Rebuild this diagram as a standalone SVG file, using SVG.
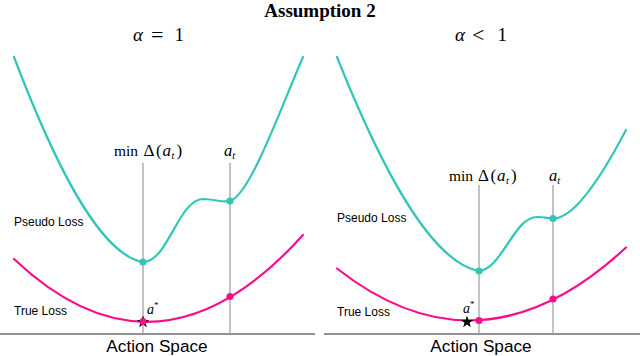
<svg xmlns="http://www.w3.org/2000/svg" xmlns:xlink="http://www.w3.org/1999/xlink" width="640" height="356" viewBox="0 0 640 356">
<style>
.serif{font-family:"Liberation Serif","Times New Roman",serif;fill:#000}
.it{font-style:italic}
.sans{font-family:"Liberation Sans",Arial,sans-serif;fill:#000}
.pseudo{fill:none;stroke:#31c6b8;stroke-width:2.2;stroke-linecap:round}
.true{fill:none;stroke:#f90e8a;stroke-width:2.2;stroke-linecap:round}
.vline{stroke:#9a9a9a;stroke-width:1.2}
.axis{stroke:#222;stroke-width:1.1}
.tdot{fill:#31c6b8}
.pdot{fill:#f90e8a}
</style>
<defs>
<path id="star" d="M0,-6.5 L1.53,-2.1 6.18,-2.01 2.47,0.8 3.82,5.26 0,2.6 -3.82,5.26 -2.47,0.8 -6.18,-2.01 -1.53,-2.1 Z" fill="#000"/>
</defs>

<text class="serif" x="320" y="16.5" font-size="19" font-weight="bold" text-anchor="middle">Assumption 2</text>

<!-- Left panel -->
<g id="panel-left">
  <text class="serif" y="41" font-size="19"><tspan class="it" x="133">α</tspan><tspan x="151" font-size="22" dy="0.5">=</tspan><tspan x="174.5" dy="-0.5">1</tspan></text>
  <g id="left-axis"><line class="axis" x1="0" y1="334" x2="315" y2="334"/>
  <text class="sans" x="157" y="352" font-size="17.2" text-anchor="middle">Action Space</text></g>
  <g id="left-guides">
    <line class="vline" x1="143" y1="163" x2="143" y2="334"/>
    <line class="vline" x1="230" y1="163" x2="230" y2="334"/>
    <text class="serif" y="156" font-size="17"><tspan x="114" font-size="15.5">min</tspan><tspan x="143.5">Δ</tspan><tspan dx="1.5">(</tspan><tspan class="it" dx="1">a</tspan><tspan class="it" font-size="10.5" dy="2.5" dx="0.5">t</tspan><tspan dy="-2.5" dx="2">)</tspan></text>
    <text class="serif" x="224" y="156" font-size="16.5"><tspan class="it">a</tspan><tspan class="it" font-size="10.5" dy="2.5">t</tspan></text>
  </g>
  <g id="left-pseudo">
    <path class="pseudo" d="M14,57 C55,165 100,255 143,262 C168,262 178,200 203,199 C215,199 222,203 230,201 C250,195 280,110 303,57"/>
    <circle class="tdot" cx="143" cy="262" r="3.6"/>
    <circle class="tdot" cx="230" cy="201" r="3.6"/>
    <text class="sans" x="14" y="226" font-size="12">Pseudo Loss</text>
  </g>
  <g id="left-true">
    <path class="true" d="M14,259 Q158.5,395.7 303,235"/>
    <use xlink:href="#star" x="143" y="322"/>
    <circle class="pdot" cx="143" cy="321.5" r="3.6"/>
    <circle class="pdot" cx="230" cy="296.5" r="3.6"/>
    <text class="sans" x="14" y="315" font-size="12">True Loss</text>
    <text class="serif" x="147" y="314" font-size="14"><tspan class="it">a</tspan><tspan font-size="9" dy="-6">*</tspan></text>
  </g>
</g>

<!-- Right panel -->
<g id="panel-right">
  <text class="serif" y="41" font-size="19"><tspan class="it" x="455">α</tspan><tspan x="472" font-size="22" dy="0.5">&lt;</tspan><tspan x="497.5" dy="-0.5">1</tspan></text>
  <g id="right-axis"><line class="axis" x1="324" y1="334" x2="640" y2="334"/>
  <text class="sans" x="481" y="352" font-size="17.2" text-anchor="middle">Action Space</text></g>
  <g id="right-guides">
    <line class="vline" x1="479" y1="185" x2="479" y2="334"/>
    <line class="vline" x1="553" y1="185" x2="553" y2="334"/>
    <text class="serif" y="181" font-size="17"><tspan x="449" font-size="15.5">min</tspan><tspan x="478">Δ</tspan><tspan dx="1.5">(</tspan><tspan class="it" dx="1">a</tspan><tspan class="it" font-size="10.5" dy="2.5" dx="0.5">t</tspan><tspan dy="-2.5" dx="2">)</tspan></text>
    <text class="serif" x="549" y="181" font-size="16.5"><tspan class="it">a</tspan><tspan class="it" font-size="10.5" dy="2.5">t</tspan></text>
  </g>
  <g id="right-pseudo">
    <path class="pseudo" d="M337,57 C380,165 430,262 479,271 C502,269 514,217 537,217 C545,217 548,218.5 553,218.5 C575,219 605,170 626,130"/>
    <circle class="tdot" cx="479" cy="271" r="3.6"/>
    <circle class="tdot" cx="553" cy="218.5" r="3.6"/>
    <text class="sans" x="337" y="221.5" font-size="12">Pseudo Loss</text>
  </g>
  <g id="right-true">
    <path class="true" d="M337,268.5 Q481.5,382 626,247.5"/>
    <use xlink:href="#star" x="467" y="322"/>
    <circle class="pdot" cx="479" cy="320.5" r="3.6"/>
    <circle class="pdot" cx="553" cy="299" r="3.6"/>
    <text class="sans" x="337" y="316" font-size="12">True Loss</text>
    <text class="serif" x="463" y="313" font-size="14"><tspan class="it">a</tspan><tspan font-size="9" dy="-6">*</tspan></text>
  </g>
</g>
</svg>
